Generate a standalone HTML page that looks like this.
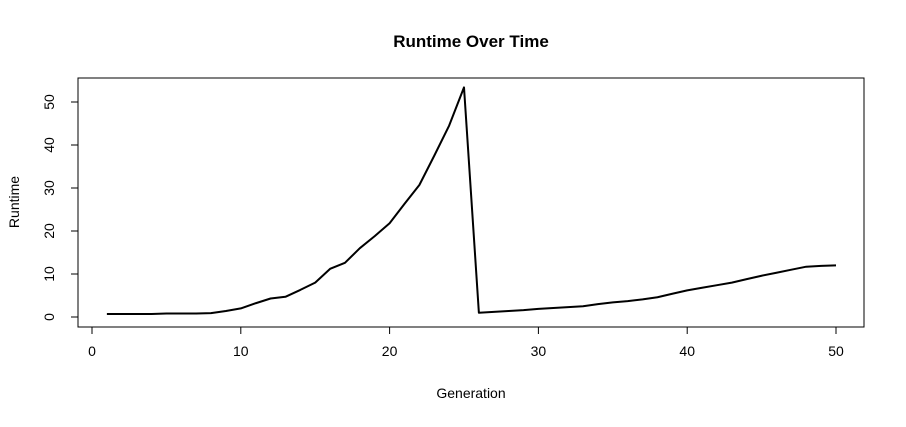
<!DOCTYPE html>
<html><head><meta charset="utf-8"><style>
body{margin:0;background:#fff;}
svg text{font-family:"Liberation Sans",Arial,sans-serif;}
</style></head><body>
<svg id="chart" width="906" height="422">
<rect width="906" height="422" fill="#fff"/>
<text x="471" y="47" text-anchor="middle" font-size="17" font-weight="bold">Runtime Over Time</text>
<rect x="78" y="78" width="786" height="249" fill="none" stroke="#000" stroke-width="1"/>
<text x="471" y="398" text-anchor="middle" font-size="14">Generation</text>
<text transform="translate(19,202) rotate(-90)" text-anchor="middle" font-size="14">Runtime</text>
<g id="axes"></g>
<path id="line" fill="none" stroke="#000" stroke-width="2" stroke-linejoin="round"/>
</svg>
<script>
const generations = [];
for (let i = 1; i <= 50; i++) generations.push(i);
const runtimes = [0.7,0.7,0.7,0.7,0.8,0.8,0.8,0.9,1.4,2.0,3.2,4.3,4.7,6.3,8.0,11.2,12.6,16.0,18.8,21.8,26.3,30.7,37.5,44.5,53.4,1.0,1.2,1.4,1.6,1.9,2.1,2.3,2.5,3.0,3.4,3.7,4.1,4.6,5.4,6.2,6.8,7.4,8.0,8.8,9.6,10.3,11.0,11.7,11.9,12.0];
const xTicks = [0,10,20,30,40,50];
const yTicks = [0,10,20,30,40,50];
const sx = v => 92 + (836 - 92) * v / 50;
const sy = v => 317 - (317 - 102) * v / 50;
const NS = "http://www.w3.org/2000/svg";
const g = document.getElementById("axes");
function mk(tag, attrs){const e=document.createElementNS(NS,tag);for(const k in attrs)e.setAttribute(k,attrs[k]);g.appendChild(e);return e;}
const xl = mk("line",{x1:sx(0),x2:sx(50),y1:327,y2:327,stroke:"#000"});


xTicks.forEach(t=>{
  const tk = mk("line",{x1:sx(t),x2:sx(t),y1:327,y2:334,stroke:"#000"});
  
  
  const tx = mk("text",{x:sx(t),y:356,"text-anchor":"middle","font-size":"14"});
  tx.textContent = t;
  
  
});
const yl = mk("line",{x1:78,x2:78,y1:sy(0),y2:sy(50),stroke:"#000"});


yTicks.forEach(t=>{
  const tk = mk("line",{x1:71,x2:78,y1:sy(t),y2:sy(t),stroke:"#000"});
  
  
  const tx = mk("text",{transform:`translate(54,${sy(t)}) rotate(-90)`,"text-anchor":"middle","font-size":"14"});
  tx.textContent = t;
  
  
});
document.getElementById("line").setAttribute("d", runtimes.map((v,i)=>(i?"L":"M")+sx(generations[i])+","+sy(v)).join(""));
</script>
</body></html>
